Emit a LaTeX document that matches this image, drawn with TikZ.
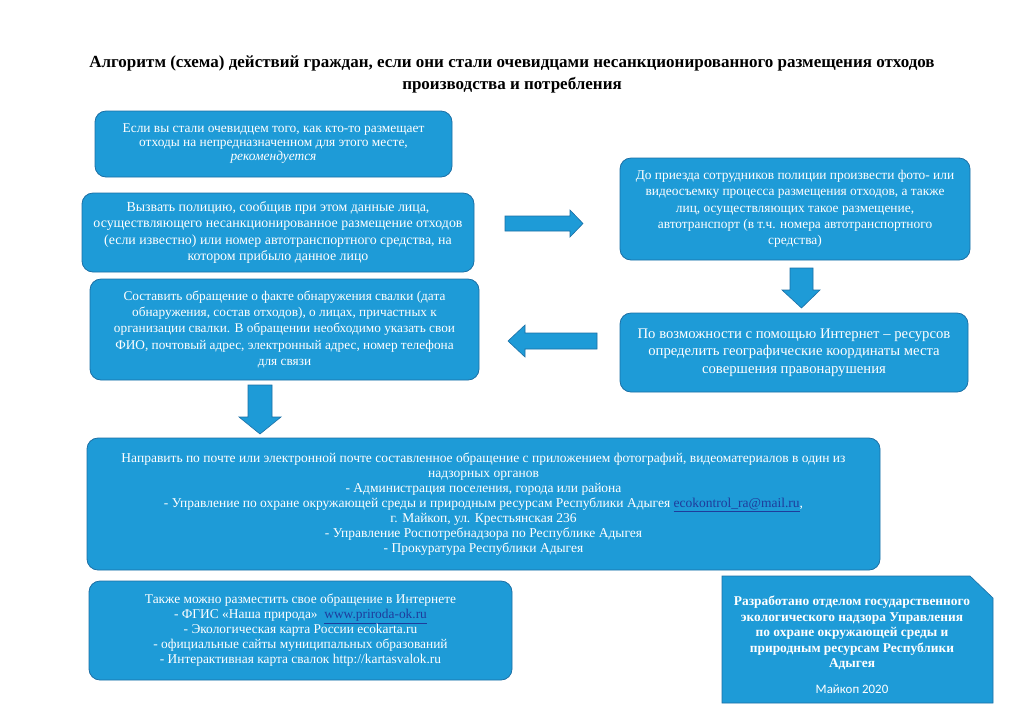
\documentclass[tikz,border=0pt]{standalone}
\usepackage{fontspec}
\setmainfont{Liberation Serif}
\newfontfamily\carlito{Carlito}
\usetikzlibrary{positioning}
\definecolor{boxfill}{HTML}{1E9BD7}
\definecolor{boxline}{HTML}{1B6FA5}
\definecolor{linkblue}{HTML}{1F3C9C}
\newcommand{\lnk}[1]{\textcolor{linkblue}{\underline{#1}}}
\begin{document}
\begin{tikzpicture}[x=1pt,y=-1pt,
  blue box/.style={draw=boxline, line width=0.8pt, fill=boxfill, rounded corners=11pt,
    text=white, align=center, inner sep=0pt},
  block arrow/.style={draw=boxline, line width=0.6pt, fill=boxfill},
  plain text/.style={text=white, align=center, inner sep=0pt}]
\useasboundingbox[fill=white] (0,0) rectangle (1024,724);
% title
\node[font=\fontsize{17}{22}\selectfont\bfseries, align=center] (title) at (512,74)
  {Алгоритм (схема) действий граждан, если они стали очевидцами несанкционированного размещения отходов\\
   производства и потребления};
% left column
\node[blue box, minimum width=357pt, minimum height=66pt,
  font=\fontsize{13.4}{14}\selectfont] (b1) at (273.5,144)
  {Если вы стали очевидцем того, как кто-то размещает\\
   отходы на непредназначенном для этого месте,\\
   \textit{рекомендуется}};
\node[blue box, minimum width=392pt, minimum height=79pt,
  font=\fontsize{13.9}{16.5}\selectfont] (b2) at (278,232.5)
  {Вызвать полицию, сообщив при этом данные лица,\\
   осуществляющего несанкционированное размещение отходов\\
   (если известно) или номер автотранспортного средства, на\\
   котором прибыло данное лицо};
\node[blue box, minimum width=389pt, minimum height=101pt,
  font=\fontsize{13.3}{16.3}\selectfont] (b3) at (284.5,329.5)
  {Составить обращение о факте обнаружения свалки (дата\\
   обнаружения, состав отходов), о лицах, причастных к\\
   организации свалки. В обращении необходимо указать свои\\
   ФИО, почтовый адрес, электронный адрес, номер телефона\\
   для связи};
% right column
\node[blue box, minimum width=350pt, minimum height=102pt,
  font=\fontsize{13.4}{16.3}\selectfont] (r1) at (795,209)
  {До приезда сотрудников полиции произвести фото- или\\
   видеосъемку процесса размещения отходов, а также\\
   лиц, осуществляющих такое размещение,\\
   автотранспорт (в т.ч. номера автотранспортного\\
   средства)};
\node[blue box, minimum width=348pt, minimum height=79pt,
  font=\fontsize{14.7}{17.5}\selectfont] (r2) at (794,352.5)
  {По возможности с помощью Интернет – ресурсов\\
   определить географические координаты места\\
   совершения правонарушения};
% big box
\node[blue box, minimum width=793pt, minimum height=132pt,
  font=\fontsize{13.5}{15}\selectfont] (big) at (483.5,504)
  {Направить по почте или электронной почте составленное обращение с приложением фотографий, видеоматериалов в один из\\
   надзорных органов\\
   - Администрация поселения, города или района\\
   - Управление по охране окружающей среды и природным ресурсам Республики Адыгея \lnk{ecokontrol\_ra@mail.ru},\\
   г. Майкоп, ул. Крестьянская 236\\
   - Управление Роспотребнадзора по Республике Адыгея\\
   - Прокуратура Республики Адыгея};
% bottom box
\node[blue box, minimum width=423pt, minimum height=99pt,
  font=\fontsize{13.4}{15}\selectfont] (bot) at (300.5,630.5)
  {Также можно разместить свое обращение в Интернете\\
   - ФГИС «Наша природа»\ \ \lnk{www.priroda-ok.ru}\\
   - Экологическая карта России ecokarta.ru\\
   - официальные сайты муниципальных образований\\
   - Интерактивная карта свалок http://kartasvalok.ru};
% credits box (cut corner)
\draw[draw=boxline, line width=0.6pt, fill=boxfill]
  (722,576) -- (970,576) -- (993,598) -- (993,703) -- (722,703) -- cycle;
\node[plain text, font=\fontsize{13.4}{15.6}\selectfont\bfseries] (cred) at (852,633)
  {Разработано отделом государственного\\
   экологического надзора Управления\\
   по охране окружающей среды и\\
   природным ресурсам Республики\\
   Адыгея};
\node[plain text, font=\carlito\fontsize{12.9}{14}\selectfont] (year) at (852,689) {Майкоп 2020};
% block arrows
\draw[block arrow] (505,216) -- (570,216) -- (570,210) -- (583,223.5) -- (570,237) -- (570,231) -- (505,231) -- cycle;
\draw[block arrow] (790,268) -- (813,268) -- (813,290) -- (820,290) -- (801.5,308) -- (782,290) -- (790,290) -- cycle;
\draw[block arrow] (597,333) -- (525,333) -- (525,325) -- (508,341) -- (525,357) -- (525,349) -- (597,349) -- cycle;
\draw[block arrow] (248,385) -- (272,385) -- (272,417) -- (281,417) -- (260,434) -- (239,417) -- (248,417) -- cycle;
\end{tikzpicture}
\end{document}
